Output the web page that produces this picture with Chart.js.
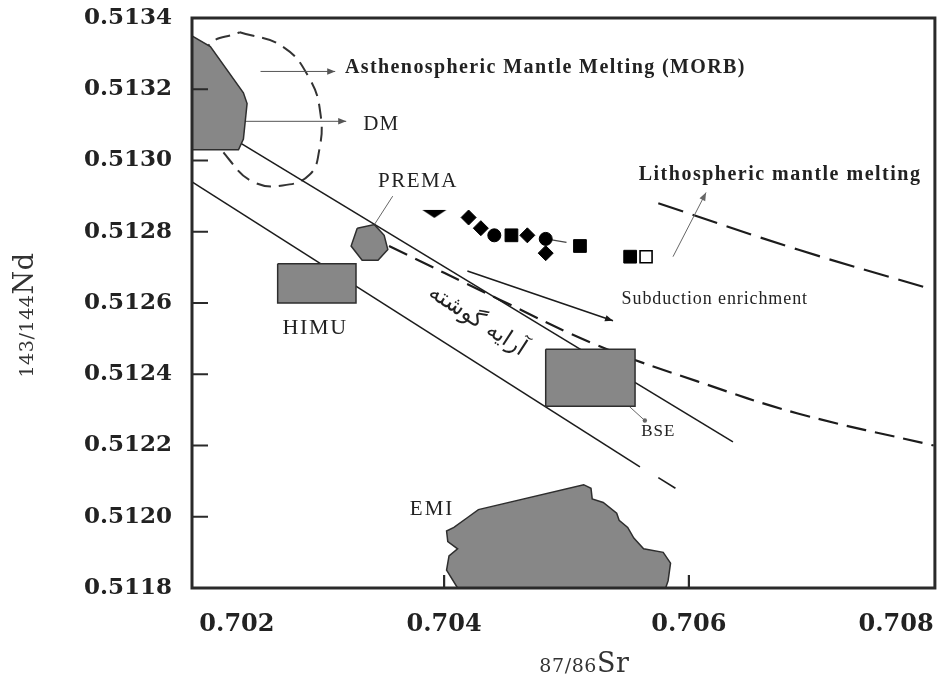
<!DOCTYPE html>
<html><head><meta charset="utf-8">
<script src="https://cdn.jsdelivr.net/npm/chart.js@4.4.1/dist/chart.umd.min.js"></script>
<style>html,body{margin:0;padding:0;background:#fff}</style>
</head><body>
<canvas id="c" width="945" height="675"></canvas>
<script>
// ---- axis ticks ----
const xTicks = [0.702, 0.704, 0.706, 0.708];
const yTicks = [0.5118, 0.5120, 0.5122, 0.5124, 0.5126, 0.5128, 0.5130, 0.5132, 0.5134];
const xInnerTicks = [0.704, 0.706];
const yInnerTicks = [0.5120, 0.5122, 0.5124, 0.5126, 0.5128, 0.5130, 0.5132];
const xTitle = ['87/86', 'Sr'];
const yTitle = ['143/144', 'Nd'];

// ---- reservoir fields ----
const dmX = [0.70194, 0.70209, 0.70236, 0.70239, 0.70236, 0.70232, 0.70194, 0.70194];
const dmY = [0.51335, 0.51332, 0.51319, 0.51316, 0.51306, 0.51303, 0.51303, 0.51335];
const morbX = [0.70233, 0.70268, 0.70290, 0.70299, 0.70298, 0.70290, 0.70268, 0.70244, 0.70225, 0.70209, 0.70201, 0.70207, 0.70233];
const morbY = [0.51336, 0.51332, 0.51323, 0.51313, 0.51303, 0.51296, 0.51293, 0.51294, 0.51300, 0.51309, 0.51320, 0.51332, 0.51336];
const premaX = [0.70329, 0.70343, 0.70351, 0.70354, 0.70346, 0.70333, 0.70324, 0.70329];
const premaY = [0.51281, 0.51282, 0.51279, 0.51275, 0.51272, 0.51272, 0.51276, 0.51281];
const himuX = [0.70264, 0.70328, 0.70328, 0.70264, 0.70264];
const himuY = [0.51271, 0.51271, 0.51260, 0.51260, 0.51271];
const bseX = [0.70483, 0.70556, 0.70556, 0.70483, 0.70483];
const bseY = [0.51247, 0.51247, 0.51231, 0.51231, 0.51247];
const emiX = [0.70411, 0.70402, 0.70404, 0.70411, 0.70403, 0.70402, 0.70408, 0.70420, 0.70428, 0.70514, 0.70520, 0.70521, 0.70530, 0.70541, 0.70543, 0.70550, 0.70555, 0.70563, 0.70579, 0.70585, 0.70583, 0.70581];
const emiY = [0.51180, 0.51185, 0.51189, 0.51191, 0.51193, 0.51196, 0.51197, 0.51200, 0.51202, 0.51209, 0.51208, 0.51205, 0.51204, 0.51201, 0.51199, 0.51197, 0.51194, 0.51191, 0.51190, 0.51187, 0.51182, 0.51180];

// ---- mantle array & trend lines ----
const arrayUpperX = [0.70233, 0.70636];
const arrayUpperY = [0.51305, 0.51221];
const arrayLowerX = [0.70194, 0.70560];
const arrayLowerY = [0.51294, 0.51214];
const arrayLowerDashX = [0.70575, 0.70589];
const arrayLowerDashY = [0.51211, 0.51208];
const enrichCurveX = [0.70355, 0.70445, 0.70526, 0.70607, 0.70689, 0.70800];
const enrichCurveY = [0.51276, 0.51261, 0.51248, 0.51238, 0.51229, 0.51220];
const lithoX = [0.70575, 0.70689, 0.70797];
const lithoY = [0.51288, 0.51275, 0.51264];

// ---- arrows / leaders ----
const morbArrowX = [0.70250, 0.70311];
const morbArrowY = [0.51325, 0.51325];
const dmArrowX = [0.70215, 0.70320];
const dmArrowY = [0.51311, 0.51311];
const premaLeaderX = [0.70358, 0.70343];
const premaLeaderY = [0.51290, 0.51282];
const lithoLeaderX = [0.70587, 0.70614];
const lithoLeaderY = [0.51273, 0.51291];
const subductionX = [0.70419, 0.70538];
const subductionY = [0.51269, 0.51255];
const bseLeaderX = [0.70548, 0.70564];
const bseLeaderY = [0.51232, 0.51227];

// ---- samples ----
const triX = [0.70392];
const triY = [0.51285];
const diamondX = [0.70420, 0.70430, 0.70468, 0.70483];
const diamondY = [0.51284, 0.51281, 0.51279, 0.51274];
const circleX = [0.70441, 0.70483];
const circleY = [0.51279, 0.51278];
const circleTailX = [0.70483, 0.70500];
const circleTailY = [0.51278, 0.51277];
const squareX = [0.70455, 0.70511, 0.70552];
const squareY = [0.51279, 0.51276, 0.51273];
const openSquareX = [0.70565];
const openSquareY = [0.51273];

// ---- text labels ----
const labelTexts = ['Asthenospheric Mantle Melting (MORB)', 'DM', 'PREMA', 'Lithospheric mantle melting',
  'Subduction enrichment', 'HIMU', 'BSE', 'EMI', 'آرایه گوشته'];
const labelX = [0.70319, 0.70334, 0.70346, 0.70559, 0.70545, 0.70268, 0.70561, 0.70372, 0.70427];
const labelY = [0.51326, 0.51310, 0.51294, 0.51296, 0.51261, 0.51253, 0.51224, 0.51202, 0.51255];

const pts = (xs, ys) => xs.map((x, i) => ({x: x, y: ys[i]}));

const GREY = '#878787';
const EDGE = '#2e2e2e';
const INK = '#1c1c1c';

function shape(data, extra) {
  return Object.assign({data: data, fill: 'shape', backgroundColor: GREY, borderColor: EDGE, borderWidth: 1.5,
    pointRadius: 0, tension: 0}, extra || {});
}
function line(data, extra) {
  return Object.assign({data: data, fill: false, borderColor: INK, borderWidth: 1.6, pointRadius: 0, tension: 0}, extra || {});
}
function marks(data, extra) {
  return Object.assign({data: data, showLine: false, backgroundColor: '#000', borderColor: '#000',
    borderWidth: 1, pointRadius: 6}, extra || {});
}

// flat down-pointing triangle marker
const flatTri = document.createElement('canvas');
flatTri.width = 26; flatTri.height = 10;
(function () {
  const g = flatTri.getContext('2d');
  g.fillStyle = '#000';
  g.beginPath(); g.moveTo(1, 1); g.lineTo(25, 1); g.lineTo(13, 9); g.closePath(); g.fill();
})();

const datasets = [
  marks(pts(openSquareX, openSquareY), {pointStyle: 'rect', pointRadius: 8.5, backgroundColor: '#fff', borderColor: '#000', borderWidth: 1.6}),
  marks(pts(squareX, squareY), {pointStyle: 'rect', pointRadius: 9}),
  marks(pts(diamondX, diamondY), {pointStyle: 'rectRot', pointRadius: 7.5}),
  marks(pts(circleX, circleY), {pointStyle: 'circle', pointRadius: 6.5}),
  marks(pts(triX, triY), {pointStyle: flatTri}),
  line(pts(circleTailX, circleTailY), {borderColor: '#444', borderWidth: 1.2}),
  shape(pts(bseX, bseY)),
  shape(pts(himuX, himuY)),
  shape(pts(premaX, premaY)),
  shape(pts(dmX, dmY)),
  shape(pts(emiX, emiY)),
  line(pts(morbArrowX, morbArrowY), {borderColor: '#555', borderWidth: 1, arrow: 'head'}),
  line(pts(dmArrowX, dmArrowY), {borderColor: '#555', borderWidth: 1, arrow: 'head'}),
  line(pts(premaLeaderX, premaLeaderY), {borderColor: '#666', borderWidth: 1}),
  line(pts(lithoLeaderX, lithoLeaderY), {borderColor: '#666', borderWidth: 1, arrow: 'head'}),
  line(pts(subductionX, subductionY), {borderColor: INK, borderWidth: 1.6, arrow: 'head'}),
  line(pts(bseLeaderX, bseLeaderY), {borderColor: '#666', borderWidth: 1, arrow: 'dot'}),
  line(pts(arrayUpperX, arrayUpperY)),
  line(pts(arrayLowerX, arrayLowerY)),
  line(pts(arrayLowerDashX, arrayLowerDashY)),
  line(pts(enrichCurveX, enrichCurveY), {borderWidth: 2.2, borderDash: [20, 9], tension: 0.4}),
  line(pts(lithoX, lithoY), {borderWidth: 2.2, borderDash: [26, 10], tension: 0.4}),
  line(pts(morbX, morbY), {borderColor: '#333', borderWidth: 2, borderDash: [15, 8], tension: 0.45})
];

const labelStyle = [
  {font: 'bold 20px "Liberation Serif"', ls: '1.4px', align: 'left'},
  {font: '21px "Liberation Serif"', ls: '1px', align: 'left'},
  {font: '21px "Liberation Serif"', ls: '1.5px', align: 'left'},
  {font: 'bold 20px "Liberation Serif"', ls: '1.5px', align: 'left'},
  {font: '18px "Liberation Serif"', ls: '0.9px', align: 'left'},
  {font: '22px "Liberation Serif"', ls: '1.6px', align: 'left'},
  {font: '17px "Liberation Serif"', ls: '1px', align: 'left'},
  {font: '21px "Liberation Serif"', ls: '2px', align: 'left'},
  {font: '23px "DejaVu Sans"', ls: '0px', align: 'center', rot: 33}
];

function drawTitle(ctx, parts, cx, base, rot) {
  const f1 = '19px "DejaVu Serif"', f2 = '27px "DejaVu Serif"';
  ctx.save();
  ctx.fillStyle = '#333';
  ctx.textBaseline = 'alphabetic';
  ctx.textAlign = 'left';
  ctx.letterSpacing = '0.6px';
  ctx.font = f1; const w1 = ctx.measureText(parts[0]).width;
  ctx.font = f2; const w2 = ctx.measureText(parts[1]).width;
  const w = w1 + w2;
  if (rot) {
    ctx.translate(base, cx);
    ctx.rotate(-Math.PI / 2);
    ctx.font = f1; ctx.fillText(parts[0], -w / 2, 0);
    ctx.font = f2; ctx.fillText(parts[1], -w / 2 + w1, 0);
  } else {
    ctx.font = f1; ctx.fillText(parts[0], cx - w / 2, base);
    ctx.font = f2; ctx.fillText(parts[1], cx - w / 2 + w1, base);
  }
  ctx.restore();
}

const decor = {
  id: 'decor',
  afterDatasetsDraw(chart) {
    const ctx = chart.ctx, xs = chart.scales.x, ys = chart.scales.y, a = chart.chartArea;
    ctx.save();
    // arrow heads
    chart.data.datasets.forEach((ds) => {
      if (!ds.arrow) return;
      const n = ds.data.length;
      const p1 = ds.data[n - 2], p2 = ds.data[n - 1];
      const x1 = xs.getPixelForValue(p1.x), y1 = ys.getPixelForValue(p1.y);
      const x2 = xs.getPixelForValue(p2.x), y2 = ys.getPixelForValue(p2.y);
      ctx.fillStyle = ds.borderColor;
      if (ds.arrow === 'dot') {
        ctx.beginPath(); ctx.arc(x2, y2, 2.2, 0, Math.PI * 2); ctx.fill();
        return;
      }
      const ang = Math.atan2(y2 - y1, x2 - x1), L = 8, W = 3.2;
      ctx.beginPath();
      ctx.moveTo(x2, y2);
      ctx.lineTo(x2 - L * Math.cos(ang) + W * Math.sin(ang), y2 - L * Math.sin(ang) - W * Math.cos(ang));
      ctx.lineTo(x2 - L * Math.cos(ang) - W * Math.sin(ang), y2 - L * Math.sin(ang) + W * Math.cos(ang));
      ctx.closePath(); ctx.fill();
    });
    // frame
    ctx.strokeStyle = '#2a2a2a'; ctx.lineWidth = 3;
    ctx.strokeRect(a.left, a.top, a.right - a.left, a.bottom - a.top);
    // inner ticks
    ctx.lineWidth = 2.2;
    ctx.beginPath();
    yInnerTicks.forEach(v => { const y = ys.getPixelForValue(v); ctx.moveTo(a.left, y); ctx.lineTo(a.left + 16, y); });
    xInnerTicks.forEach(v => { const x = xs.getPixelForValue(v); ctx.moveTo(x, a.bottom); ctx.lineTo(x, a.bottom - 13); });
    ctx.stroke();
    // labels
    ctx.fillStyle = '#222';
    ctx.textBaseline = 'middle';
    labelTexts.forEach((t, i) => {
      const st = labelStyle[i];
      const x = xs.getPixelForValue(labelX[i]), y = ys.getPixelForValue(labelY[i]);
      ctx.save();
      ctx.font = st.font;
      ctx.letterSpacing = st.ls;
      ctx.textAlign = st.align;
      ctx.translate(x, y);
      if (st.rot) ctx.rotate(st.rot * Math.PI / 180);
      ctx.fillText(t, 0, 0);
      ctx.restore();
    });
    // axis titles
    drawTitle(ctx, xTitle, (a.left + a.right) / 2 + 21, a.bottom + 84, false);
    drawTitle(ctx, yTitle, (a.top + a.bottom) / 2 + 12, a.left - 159, true);
    ctx.restore();
  }
};

new Chart(document.getElementById('c'), {
  type: 'line',
  data: {datasets: datasets},
  options: {
    responsive: false,
    animation: false,
    events: [],
    layout: {padding: {left: 0, right: 4, top: 18, bottom: 0}},
    plugins: {legend: {display: false}, tooltip: {enabled: false}},
    scales: {
      x: {
        type: 'linear', min: 0.70194, max: 0.70801,
        afterBuildTicks: s => { s.ticks = xTicks.map(v => ({value: v})); },
        afterFit: s => { s.height = 87; s.paddingLeft = 0; s.paddingRight = 0; },
        grid: {display: false, drawTicks: false},
        border: {display: false},
        ticks: {align: 'inner', padding: 22, color: '#222',
          font: {family: '"DejaVu Serif"', weight: 'bold', size: 24},
          callback: v => Number(v).toFixed(3)},
        title: {display: false, text: '87/86Sr'}
      },
      y: {
        type: 'linear', min: 0.5118, max: 0.5134,
        afterBuildTicks: s => { s.ticks = yTicks.map(v => ({value: v})); },
        afterFit: s => { s.width = 192; s.paddingTop = 0; s.paddingBottom = 0; },
        grid: {display: false, drawTicks: false},
        border: {display: false},
        ticks: {padding: 20, color: '#222',
          font: {family: '"DejaVu Serif"', weight: 'bold', size: 23},
          callback: v => Number(v).toFixed(4)},
        title: {display: false, text: '143/144Nd'}
      }
    }
  },
  plugins: [decor]
});
</script>
</body></html>
